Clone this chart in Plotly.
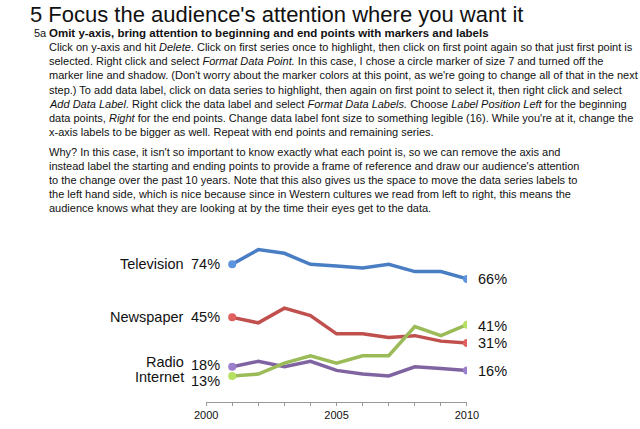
import plotly.graph_objects as go

# Share of people getting news from each source (%), 2001-2010
years = [2001, 2002, 2003, 2004, 2005, 2006, 2007, 2008, 2009, 2010]
television = [74, 82, 80, 74, 73, 72, 74, 70, 70, 66]
newspaper = [45, 42, 50, 46, 36, 36, 34, 35, 32, 31]
internet = [13, 14, 20, 24, 20, 24, 24, 40, 35, 41]
radio = [18, 21, 18, 21, 16, 14, 13, 18, 17, 16]

series_names = ["Television", "Newspaper", "Radio", "Internet"]
series_values = [television, newspaper, radio, internet]
line_colors = ["#4A7EC4", "#C0504D", "#8064A2", "#9BBB59"]
marker_colors = ["#5C95DD", "#E06060", "#9C7FCC", "#B5E061"]

x_tick_labels = ["2000", "2005", "2010"]

title = "5 Focus the audience's attention where you want it"
sub_num = "5a"
sub_title = "Omit y-axis, bring attention to beginning and end points with markers and labels"
body_lines = [
    "Click on y-axis and hit <i>Delete</i>. Click on first series once to highlight, then click on first point again so that just first point is",
    "selected. Right click and select <i>Format Data Point.</i> In this case, I chose a circle marker of size 7 and turned off the",
    "marker line and shadow. (Don't worry about the marker colors at this point, as we're going to change all of that in the next",
    "step.) To add data label, click on data series to highlight, then again on first point to select it, then right click and select",
    "<i>Add Data Label</i>. Right click the data label and select <i>Format Data Labels.</i> Choose <i>Label Position Left</i> for the beginning",
    "data points, <i>Right</i> for the end points. Change data label font size to something legible (16). While you're at it, change the",
    "x-axis labels to be bigger as well. Repeat with end points and remaining series.",
    "Why? In this case, it isn't so important to know exactly what each point is, so we can remove the axis and",
    "instead label the starting and ending points to provide a frame of reference and draw our audience's attention",
    "to the change over the past 10 years. Note that this also gives us the space to move the data series labels to",
    "the left hand side, which is nice because since in Western cultures we read from left to right, this means the",
    "audience knows what they are looking at by the time their eyes get to the data.",
]
body_y = [47.5, 61.5, 75.5, 89.5, 103.5, 117.5, 131.5, 152, 166, 180, 194, 208]

W, H = 640, 429
sans = "Liberation Sans, Arial, Helvetica"
body_size = 11  # no narrow font available, so shrink to match line widths

fig = go.Figure()

for name, vals, lc, mc in zip(series_names, series_values, line_colors, marker_colors):
    fig.add_trace(go.Scatter(x=years, y=vals, mode="lines", name=name,
                             line=dict(color=lc, width=3.5), hoverinfo="skip"))
    # markers only on first and last point
    fig.add_trace(go.Scatter(x=[years[0], years[-1]], y=[vals[0], vals[-1]], mode="markers",
                             marker=dict(color=mc, size=8), hoverinfo="skip"))

ann = []
# page text
ann.append(dict(text=title, x=17 / W, y=1 - 14 / H, xref="paper", yref="paper",
                xanchor="left", yanchor="middle", showarrow=False,
                font=dict(family=sans, size=22, color="#111")))
ann.append(dict(text=sub_num, x=21 / W, y=1 - 33.5 / H, xref="paper", yref="paper",
                xanchor="left", yanchor="middle", showarrow=False,
                font=dict(family=sans, size=body_size, color="#111")))
ann.append(dict(text="<b>" + sub_title + "</b>", x=36 / W, y=1 - 33.5 / H, xref="paper", yref="paper",
                xanchor="left", yanchor="middle", showarrow=False,
                font=dict(family=sans, size=11.5, color="#111")))
for line, ly in zip(body_lines, body_y):
    ann.append(dict(text=line, x=36 / W, y=1 - ly / H, xref="paper", yref="paper",
                    xanchor="left", yanchor="middle", showarrow=False,
                    font=dict(family=sans, size=body_size, color="#111")))

# series labels
name_shift = {"Television": 0, "Newspaper": 0, "Radio": 5, "Internet": -1}
left_shift = {"Television": 0, "Newspaper": 0, "Radio": 2, "Internet": -5}
right_shift = {"Television": 0, "Newspaper": 0, "Radio": -1, "Internet": -1}
lab_font = dict(family=sans, size=14.5, color="#111")
for name, vals in zip(series_names, series_values):
    ann.append(dict(text=name, x=years[0], y=vals[0], xanchor="right", yanchor="middle",
                    xshift=-46, yshift=name_shift[name], showarrow=False, font=lab_font))
    ann.append(dict(text=f"{vals[0]}%", x=years[0], y=vals[0], xanchor="right", yanchor="middle",
                    xshift=-10, yshift=left_shift[name], showarrow=False, font=lab_font))
    ann.append(dict(text=f"{vals[-1]}%", x=years[-1], y=vals[-1], xanchor="left", yanchor="middle",
                    xshift=9, yshift=right_shift[name], showarrow=False, font=lab_font))

fig.update_layout(
    width=W, height=H,
    margin=dict(l=0, r=0, t=0, b=0),
    paper_bgcolor="white", plot_bgcolor="white",
    showlegend=False,
    annotations=ann,
    xaxis=dict(domain=[201.7 / W, 472.7 / W], range=[2000, 2010],
               tickvals=[int(t) for t in x_tick_labels], ticktext=x_tick_labels,
               ticks="outside", ticklen=3, tickcolor="#999", showline=True, linecolor="#999",
               linewidth=1, showgrid=False, zeroline=False,
               minor=dict(dtick=1, ticks="outside", ticklen=3, tickcolor="#999", showgrid=False),
               tickfont=dict(family=sans, size=11, color="#111")),
    yaxis=dict(domain=[1 - 401.7 / H, 1 - 235 / H], range=[-1.1, 90], visible=False),
)

# drop the default 8px body margin so the figure sits at the window corner
fig.write_html("out.html", config={"displayModeBar": False},
               post_script="document.body.style.margin='0px';")
